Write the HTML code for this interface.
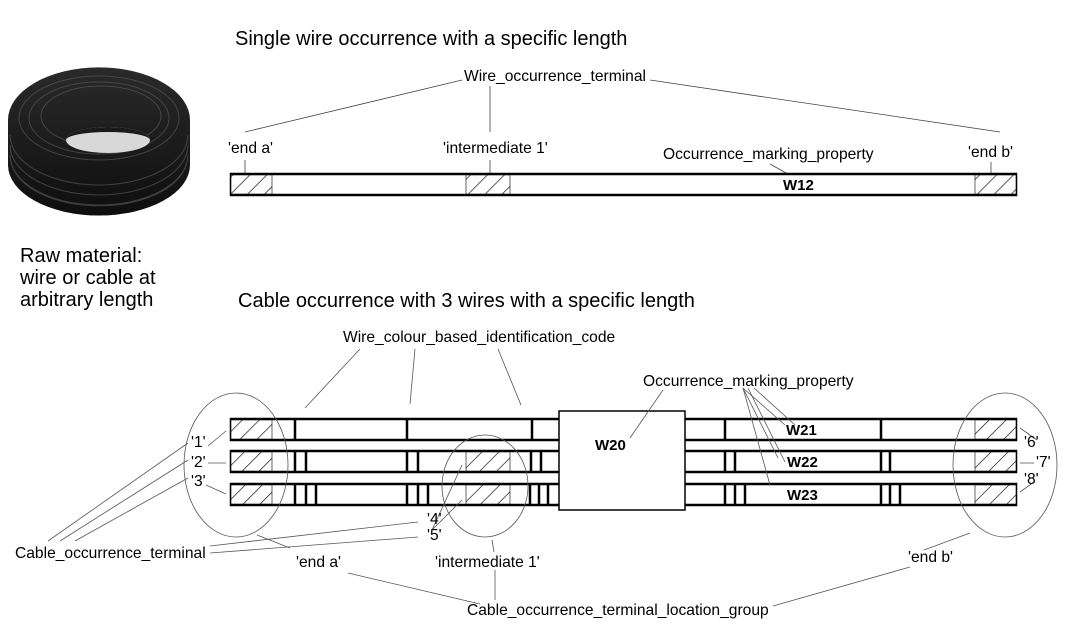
<!DOCTYPE html>
<html><head><meta charset="utf-8"><style>
html,body{margin:0;padding:0;background:#fff}
svg{display:block}
text{font-family:"Liberation Sans",Arial,sans-serif;fill:#000}
.l{font-size:15.6px}
.b{font-size:15px;font-weight:bold}
.t{font-size:20px}
</style></head><body>
<svg width="1075" height="642" viewBox="0 0 1075 642" xmlns="http://www.w3.org/2000/svg">
<defs>
<pattern id="h" patternUnits="userSpaceOnUse" width="12" height="12" patternTransform="rotate(45)">
<rect width="12" height="12" fill="#fff"/><line x1="0" y1="0" x2="0" y2="12" stroke="#000" stroke-width="1.3"/>
</pattern>
<linearGradient id="cg" x1="0" y1="0" x2="0" y2="1">
<stop offset="0" stop-color="#2a2a2a"/><stop offset="1" stop-color="#0e0e0e"/></linearGradient>
</defs>
<g>
<path d="M8,120 A90,52 0 0 1 190,120 L190,165 A90,50 0 0 1 8,165 Z" fill="url(#cg)"/>
<g stroke="#555" stroke-width="1" fill="none" opacity="0.7">
<path d="M10,135 A89,50 0 0 0 188,135"/><path d="M10,145 A89,50 0 0 0 188,145"/>
<path d="M10,155 A89,50 0 0 0 188,155"/><path d="M12,165 A88,48 0 0 0 186,165"/>
<ellipse cx="99" cy="118" rx="80" ry="42"/><ellipse cx="99" cy="118" rx="70" ry="36"/>
<ellipse cx="101" cy="116" rx="60" ry="30"/>
</g>
<ellipse cx="108" cy="140" rx="42" ry="13" fill="#d8d8d8"/>
<path d="M66,140 A42,13 0 0 1 150,140 A42,8 0 0 0 66,140Z" fill="#1a1a1a"/>
</g>
<text x="20" y="262" class="t">Raw material:</text>
<text x="20" y="284" class="t">wire or cable at</text>
<text x="20" y="306" class="t">arbitrary length</text>

<text x="235" y="45" class="t">Single wire occurrence with a specific length</text>
<text x="464" y="81" class="l">Wire_occurrence_terminal</text>
<text x="228" y="153" class="l">'end a'</text>
<text x="443" y="153" class="l">'intermediate 1'</text>
<text x="663" y="159" class="l">Occurrence_marking_property</text>
<text x="968" y="157" class="l">'end b'</text>
<g stroke="#444" stroke-width="0.8" fill="none">
<line x1="462" y1="80" x2="245" y2="132"/><line x1="490" y1="86" x2="490" y2="132"/>
<line x1="650" y1="80" x2="1000" y2="132"/>
<line x1="245" y1="160" x2="245" y2="174"/><line x1="490" y1="160" x2="490" y2="174"/>
<line x1="991" y1="162" x2="991" y2="174"/><line x1="770" y1="164" x2="795" y2="178"/>
</g>
<rect x="231" y="174" width="785" height="21" fill="#fff" stroke="#000" stroke-width="2.5"/>
<rect x="231" y="175" width="41" height="19" fill="url(#h)" stroke="#000" stroke-width="0.6"/>
<rect x="466" y="175" width="44" height="19" fill="url(#h)" stroke="#000" stroke-width="0.6"/>
<rect x="975" y="175" width="41" height="19" fill="url(#h)" stroke="#000" stroke-width="0.6"/>
<text x="783" y="190" class="b">W12</text>

<text x="238" y="307" class="t">Cable occurrence with 3 wires with a specific length</text>
<text x="343" y="342" class="l">Wire_colour_based_identification_code</text>
<text x="643" y="386" class="l">Occurrence_marking_property</text>

<g stroke="#000" stroke-width="2.5" fill="#fff">
<rect x="231" y="419" width="785" height="21"/>
<rect x="231" y="451" width="785" height="21"/>
<rect x="231" y="484" width="785" height="21"/>
</g>
<g fill="url(#h)" stroke="#000" stroke-width="0.6">
<rect x="231" y="420" width="41" height="19"/><rect x="231" y="452" width="41" height="19"/><rect x="231" y="485" width="41" height="19"/>
<rect x="466" y="452" width="44" height="19"/><rect x="466" y="485" width="44" height="19"/>
<rect x="975" y="420" width="41" height="19"/><rect x="975" y="452" width="41" height="19"/><rect x="975" y="485" width="41" height="19"/>
</g>
<g stroke="#000" stroke-width="2.5">
<line x1="295" y1="419" x2="295" y2="440"/><line x1="407" y1="419" x2="407" y2="440"/><line x1="532" y1="419" x2="532" y2="440"/>
<line x1="725" y1="419" x2="725" y2="440"/><line x1="881" y1="419" x2="881" y2="440"/>
<line x1="295" y1="451" x2="295" y2="472"/><line x1="306" y1="451" x2="306" y2="472"/>
<line x1="407" y1="451" x2="407" y2="472"/><line x1="418" y1="451" x2="418" y2="472"/>
<line x1="531" y1="451" x2="531" y2="472"/><line x1="541" y1="451" x2="541" y2="472"/>
<line x1="725" y1="451" x2="725" y2="472"/><line x1="735" y1="451" x2="735" y2="472"/>
<line x1="881" y1="451" x2="881" y2="472"/><line x1="890" y1="451" x2="890" y2="472"/>
<line x1="295" y1="484" x2="295" y2="505"/><line x1="306" y1="484" x2="306" y2="505"/><line x1="316" y1="484" x2="316" y2="505"/>
<line x1="407" y1="484" x2="407" y2="505"/><line x1="418" y1="484" x2="418" y2="505"/><line x1="428" y1="484" x2="428" y2="505"/>
<line x1="530" y1="484" x2="530" y2="505"/><line x1="539" y1="484" x2="539" y2="505"/><line x1="548" y1="484" x2="548" y2="505"/>
<line x1="725" y1="484" x2="725" y2="505"/><line x1="735" y1="484" x2="735" y2="505"/><line x1="745" y1="484" x2="745" y2="505"/>
<line x1="881" y1="484" x2="881" y2="505"/><line x1="890" y1="484" x2="890" y2="505"/><line x1="900" y1="484" x2="900" y2="505"/>
</g>
<rect x="559" y="411" width="126" height="99" fill="#fff" stroke="#000" stroke-width="1.5"/>
<text x="595" y="450" class="b">W20</text>
<text x="786" y="435" class="b">W21</text>
<text x="787" y="467" class="b">W22</text>
<text x="787" y="500" class="b">W23</text>

<g stroke="#555" stroke-width="0.8" fill="none">
<ellipse cx="236" cy="465" rx="52" ry="72"/>
<ellipse cx="485" cy="486" rx="43" ry="51"/>
<ellipse cx="1005" cy="465" rx="52" ry="72"/>
<line x1="360" y1="349" x2="305" y2="408"/><line x1="415" y1="349" x2="410" y2="404"/><line x1="498" y1="349" x2="521" y2="405"/>
<line x1="663" y1="390" x2="630" y2="438"/>
<line x1="743" y1="388" x2="785" y2="425"/><line x1="743" y1="388" x2="778" y2="458"/><line x1="743" y1="388" x2="770" y2="485"/>
<line x1="754" y1="388" x2="795" y2="425"/><line x1="748" y1="388" x2="785" y2="462"/>
<line x1="208" y1="446" x2="226" y2="431"/><line x1="208" y1="463" x2="226" y2="463"/><line x1="206" y1="485" x2="226" y2="494"/>
<line x1="1020" y1="428" x2="1037" y2="440"/><line x1="1020" y1="463" x2="1034" y2="463"/><line x1="1020" y1="492" x2="1034" y2="482"/>
<line x1="188" y1="443" x2="48" y2="541"/><line x1="188" y1="460" x2="60" y2="541"/><line x1="188" y1="478" x2="75" y2="541"/>
<line x1="210" y1="546" x2="418" y2="522"/><line x1="210" y1="553" x2="418" y2="537"/>
<line x1="432" y1="530" x2="462" y2="465"/><line x1="432" y1="530" x2="462" y2="500"/>
<line x1="257" y1="535" x2="290" y2="548"/>
<line x1="492" y1="540" x2="494" y2="552"/>
<line x1="924" y1="550" x2="970" y2="533"/>
<line x1="348" y1="573" x2="480" y2="604"/><line x1="495" y1="570" x2="495" y2="600"/>
<line x1="773" y1="606" x2="910" y2="567"/>
</g>
<text x="191" y="447" class="l">'1'</text>
<text x="191" y="467" class="l">'2'</text>
<text x="191" y="486" class="l">'3'</text>
<text x="1024" y="447" class="l">'6'</text>
<text x="1036" y="467" class="l">'7'</text>
<text x="1024" y="484" class="l">'8'</text>
<text x="427" y="524" class="l">'4'</text>
<text x="427" y="540" class="l">'5'</text>
<text x="15" y="558" class="l">Cable_occurrence_terminal</text>
<text x="296" y="567" class="l">'end a'</text>
<text x="435" y="567" class="l">'intermediate 1'</text>
<text x="908" y="562" class="l">'end b'</text>
<text x="467" y="615" class="l">Cable_occurrence_terminal_location_group</text>
</svg>
</body></html>
